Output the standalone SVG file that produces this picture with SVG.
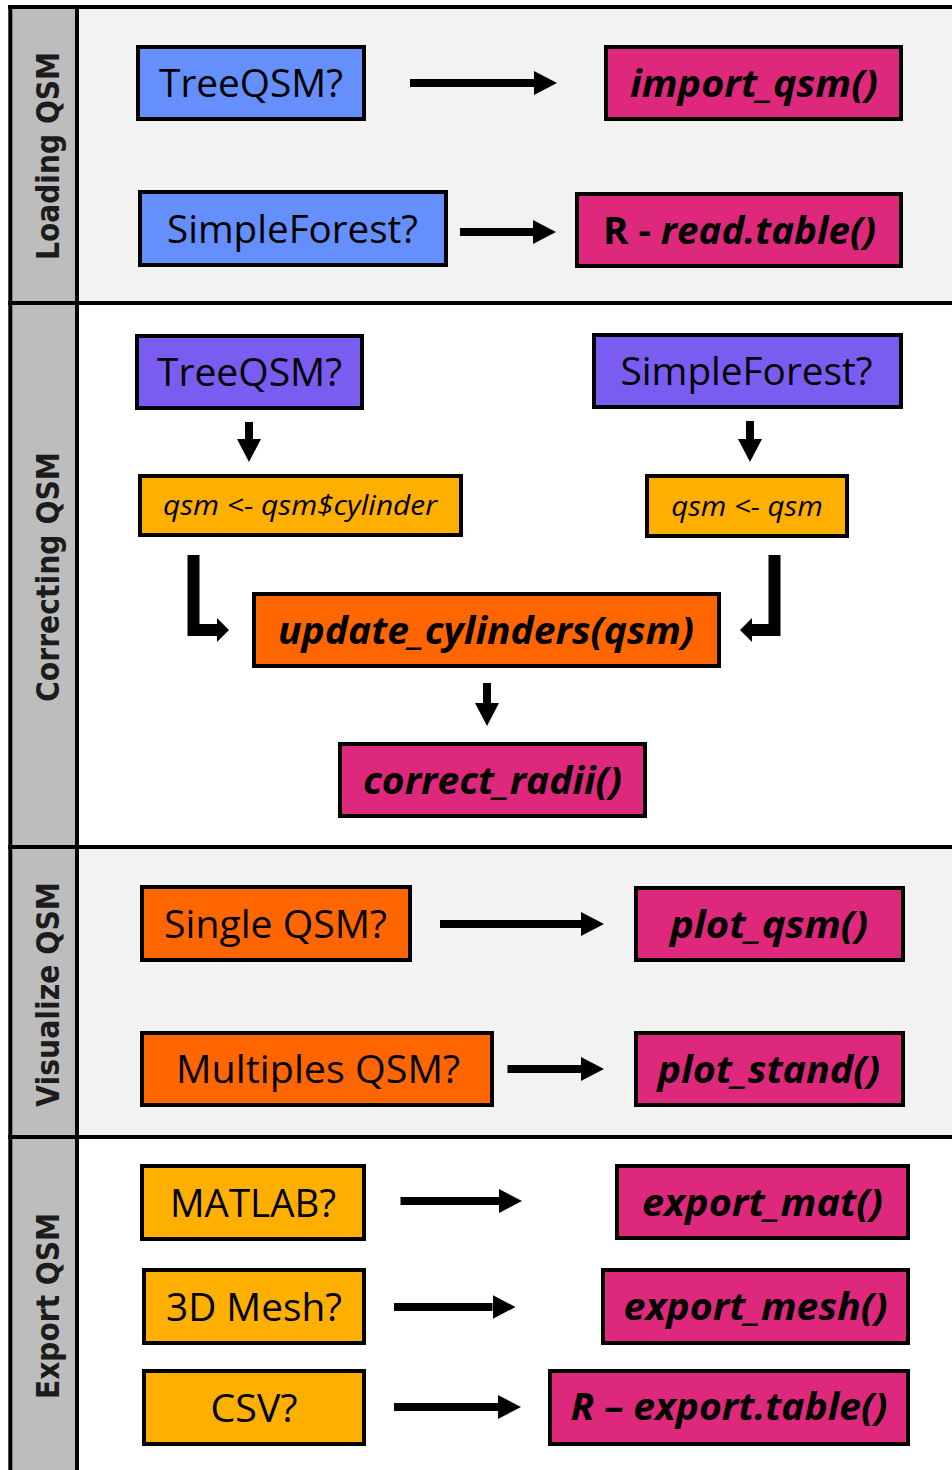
<svg xmlns="http://www.w3.org/2000/svg" width="952" height="1470" viewBox="0 0 952 1470">
<style>
.box{stroke:#000;stroke-width:4}
.blue{fill:#658ffd}
.purple{fill:#7a5cf0}
.mag{fill:#dd287c}
.org{fill:#ff6600}
.yel{fill:#ffaf00}
.t{font-family:"Open Sans","Liberation Sans",sans-serif;font-size:39px;fill:#000;text-anchor:middle}
.bi{font-family:"Open Sans","Liberation Sans",sans-serif;font-size:38px;font-weight:bold;font-style:italic;fill:#000;text-anchor:middle}
.ci{font-family:"Open Sans","Liberation Sans",sans-serif;font-size:27px;font-style:italic;fill:#000;text-anchor:middle}
.lane{font-family:"DejaVu Sans",Verdana,sans-serif;font-size:32px;font-weight:bold;fill:#1c1c1c;text-anchor:middle}
.arr{stroke:#000;stroke-width:8;fill:none;marker-end:url(#ah)}
.elb{stroke:#000;stroke-width:12;fill:none;stroke-linejoin:miter;marker-end:url(#eh)}
.frame{stroke:#000;stroke-width:4;fill:none}
</style>
<defs>
<marker id="ah" viewBox="0 0 23 24" refX="0" refY="12" markerWidth="23" markerHeight="24" markerUnits="userSpaceOnUse" orient="auto">
<path d="M0,0 L23,12 L0,24 Z" fill="#000"/>
</marker>
<marker id="eh" viewBox="0 0 12 24" refX="0" refY="12" markerWidth="12" markerHeight="24" markerUnits="userSpaceOnUse" orient="auto">
<path d="M0,0 L12,12 L0,24 Z" fill="#000"/>
</marker>
</defs>
<rect width="952" height="1470" fill="#fff"/>
<g id="lanes">
<rect x="77" y="7" width="875" height="296" fill="#f2f2f2"/>
<rect x="77" y="303" width="875" height="544" fill="#fff"/>
<rect x="77" y="847" width="875" height="290" fill="#f2f2f2"/>
<rect x="77" y="1137" width="875" height="333" fill="#fff"/>
<rect x="10" y="7" width="67" height="1463" fill="#bdbdbd"/>
<path class="frame" d="M10.3,5 V1470 M8,7 H952 M77,5 V1470 M8,303 H952 M8,847 H952 M8,1137 H952"/>
<text class="lane" transform="translate(59,156) rotate(-90)" textLength="208" lengthAdjust="spacingAndGlyphs">Loading QSM</text>
<text class="lane" transform="translate(59,577) rotate(-90)" textLength="250" lengthAdjust="spacingAndGlyphs">Correcting QSM</text>
<text class="lane" transform="translate(59,994.5) rotate(-90)" textLength="225" lengthAdjust="spacingAndGlyphs">Visualize QSM</text>
<text class="lane" transform="translate(59,1306) rotate(-90)" textLength="186" lengthAdjust="spacingAndGlyphs">Export QSM</text>
</g>
<g id="connectors">
<line class="arr" x1="410" y1="83" x2="534" y2="83"/>
<line class="arr" x1="460" y1="232" x2="533" y2="232"/>
<line class="arr" x1="249" y1="422" x2="249" y2="439"/>
<line class="arr" x1="750" y1="421" x2="750" y2="439"/>
<path class="elb" d="M193.5,555 V630 H217"/>
<path class="elb" d="M774.5,555 V630 H752"/>
<line class="arr" x1="487" y1="683" x2="487" y2="703"/>
<line class="arr" x1="440" y1="924" x2="581" y2="924"/>
<line class="arr" x1="507.5" y1="1069" x2="581" y2="1069"/>
<line class="arr" x1="400.5" y1="1201" x2="499" y2="1201"/>
<line class="arr" x1="394" y1="1307" x2="492.5" y2="1307"/>
<line class="arr" x1="394" y1="1407" x2="498" y2="1407"/>
</g>
<g id="n-load-treeqsm"><rect class="box blue" x="138" y="47" width="226" height="72"/><text class="t" x="251" y="97" textLength="184" lengthAdjust="spacingAndGlyphs">TreeQSM?</text></g>
<g id="n-import-qsm"><rect class="box mag" x="606" y="47" width="295" height="72"/><text class="bi" x="754" y="96.5" textLength="248" lengthAdjust="spacingAndGlyphs">import_qsm()</text></g>
<g id="n-load-simpleforest"><rect class="box blue" x="140" y="192" width="306" height="73"/><text class="t" x="292.5" y="243" textLength="251" lengthAdjust="spacingAndGlyphs">SimpleForest?</text></g>
<g id="n-read-table"><rect class="box mag" x="577" y="194" width="324" height="72"/><text class="bi" x="603" y="243.5" style="text-anchor:start" textLength="273" lengthAdjust="spacingAndGlyphs"><tspan font-style="normal">R - </tspan>read.table()</text></g>
<g id="n-corr-treeqsm"><rect class="box purple" x="137" y="336" width="225" height="72"/><text class="t" x="249.5" y="386" textLength="185" lengthAdjust="spacingAndGlyphs">TreeQSM?</text></g>
<g id="n-corr-simpleforest"><rect class="box purple" x="594" y="335" width="307" height="72"/><text class="t" x="746.5" y="385" textLength="252" lengthAdjust="spacingAndGlyphs">SimpleForest?</text></g>
<g id="n-qsm-cylinder"><rect class="box yel" x="140" y="476" width="321" height="59"/><text class="ci" x="300" y="515" textLength="274" lengthAdjust="spacingAndGlyphs">qsm &lt;- qsm$cylinder</text></g>
<g id="n-qsm-qsm"><rect class="box yel" x="647" y="476" width="200" height="60"/><text class="ci" x="747" y="515.5" textLength="151.5" lengthAdjust="spacingAndGlyphs">qsm &lt;- qsm</text></g>
<g id="n-update-cylinders"><rect class="box org" x="254" y="594" width="465" height="72"/><text class="bi" x="486" y="643.5" textLength="416" lengthAdjust="spacingAndGlyphs">update_cylinders(qsm)</text></g>
<g id="n-correct-radii"><rect class="box mag" x="340" y="744" width="305" height="72"/><text class="bi" x="492.5" y="793.5" textLength="259" lengthAdjust="spacingAndGlyphs">correct_radii()</text></g>
<g id="n-single-qsm"><rect class="box org" x="142" y="887" width="268" height="73"/><text class="t" x="275.5" y="937.5" textLength="223" lengthAdjust="spacingAndGlyphs">Single QSM?</text></g>
<g id="n-plot-qsm"><rect class="box mag" x="636" y="888" width="267" height="72"/><text class="bi" x="769" y="937.5" textLength="198" lengthAdjust="spacingAndGlyphs">plot_qsm()</text></g>
<g id="n-multiples-qsm"><rect class="box org" x="142" y="1033" width="350" height="72"/><text class="t" x="318" y="1083" textLength="284" lengthAdjust="spacingAndGlyphs">Multiples QSM?</text></g>
<g id="n-plot-stand"><rect class="box mag" x="636" y="1033" width="267" height="72"/><text class="bi" x="768.75" y="1082.5" textLength="222.5" lengthAdjust="spacingAndGlyphs">plot_stand()</text></g>
<g id="n-matlab"><rect class="box yel" x="142" y="1166" width="222" height="73"/><text class="t" x="253" y="1216.5" textLength="166" lengthAdjust="spacingAndGlyphs">MATLAB?</text></g>
<g id="n-export-mat"><rect class="box mag" x="617" y="1166" width="291" height="72"/><text class="bi" x="762.5" y="1215.5" textLength="241" lengthAdjust="spacingAndGlyphs">export_mat()</text></g>
<g id="n-3d-mesh"><rect class="box yel" x="144" y="1270" width="220" height="73"/><text class="t" x="254" y="1320.5" textLength="176" lengthAdjust="spacingAndGlyphs">3D Mesh?</text></g>
<g id="n-export-mesh"><rect class="box mag" x="603" y="1270" width="305" height="73"/><text class="bi" x="755.5" y="1320" textLength="264" lengthAdjust="spacingAndGlyphs">export_mesh()</text></g>
<g id="n-csv"><rect class="box yel" x="144" y="1371" width="220" height="73"/><text class="t" x="254" y="1421.5" textLength="87" lengthAdjust="spacingAndGlyphs">CSV?</text></g>
<g id="n-export-table"><rect class="box mag" x="550" y="1371" width="358" height="73"/><text class="bi" x="729" y="1419.5" textLength="317" lengthAdjust="spacingAndGlyphs">R – export.table()</text></g>
</svg>
